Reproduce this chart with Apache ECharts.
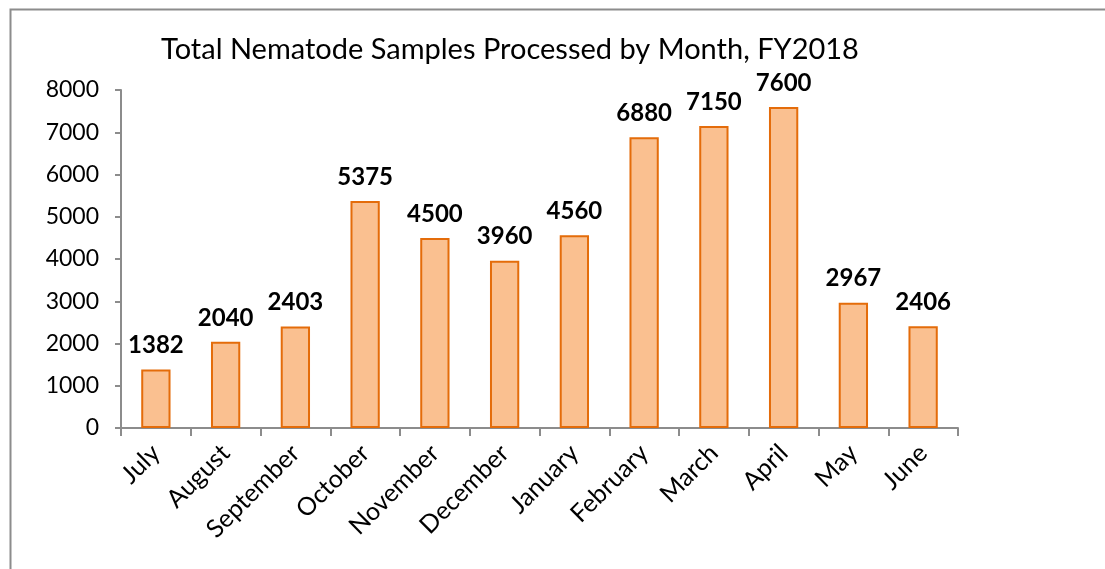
<!DOCTYPE html>
<html>
<head>
<meta charset="utf-8">
<script src="https://cdn.jsdelivr.net/npm/echarts@6/dist/echarts.min.js"></script>
<style>
  html, body { margin: 0; padding: 0; background: #fff; }
  #main { width: 1105px; height: 569px; }
</style>
</head>
<body>
<div id="main"></div>
<script>
// months of the fiscal year and samples processed
const months = ['July', 'August', 'September', 'October', 'November', 'December',
  'January', 'February', 'March', 'April', 'May', 'June'];
const samples = [1382, 2040, 2403, 5375, 4500, 3960, 4560, 6880, 7150, 7600, 2967, 2406];

const chart = echarts.init(document.getElementById('main'), null, { renderer: 'canvas' });

const font = 'Lato, "Open Sans", sans-serif';

chart.setOption({
  backgroundColor: '#fff',
  animation: false,
  title: {
    text: 'Total Nematode Samples Processed by Month, FY2018',
    left: 505,
    top: 30,
    textAlign: 'center',
    textStyle: { fontFamily: font, fontSize: 29, fontWeight: 'normal', color: '#000' }
  },
  graphic: [{
    type: 'rect',
    shape: { x: 10.5, y: 9.5, width: 1200, height: 700 },
    style: { fill: null, stroke: '#8c8c8c', lineWidth: 2 },
    silent: true
  }],
  grid: { left: 121, right: 147, top: 90, bottom: 141 },
  xAxis: {
    type: 'category',
    data: months,
    axisLine: { lineStyle: { color: '#8c8c8c', width: 2 } },
    axisTick: { show: true, length: 8, alignWithLabel: false, lineStyle: { color: '#8c8c8c', width: 2 } },
    axisLabel: {
      rotate: 45, margin: 21, interval: 0,
      fontFamily: font, fontSize: 25, color: '#000'
    }
  },
  yAxis: {
    type: 'value',
    min: 0, max: 8000, interval: 1000,
    axisLine: { show: true, lineStyle: { color: '#8c8c8c', width: 2 } },
    axisTick: { show: true, length: 6, lineStyle: { color: '#8c8c8c', width: 2 } },
    splitLine: { show: false },
    axisLabel: { margin: 22, fontFamily: font, fontSize: 23, color: '#000', formatter: v => String(v) }
  },
  series: [{
    type: 'bar',
    data: samples,
    barWidth: '42%',
    itemStyle: { color: '#fac090', borderColor: '#e46c0a', borderWidth: 2 },
    label: {
      show: true, position: 'top', distance: 12,
      fontFamily: font, fontSize: 24, fontWeight: 'bold', color: '#000'
    }
  }]
});
</script>
</body>
</html>
